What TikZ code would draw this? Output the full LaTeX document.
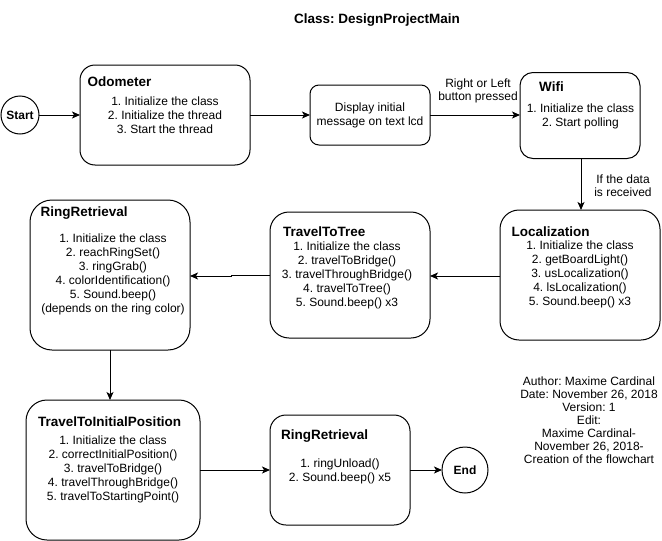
\documentclass[tikz,border=0pt]{standalone}
\usepackage{fontspec}
\setmainfont{Liberation Sans}
\usetikzlibrary{arrows.meta}
\frenchspacing
\begin{document}
\begin{tikzpicture}[x=1pt,y=-1pt,
  box/.style={draw=black, line width=1pt, rounded corners=#1, inner sep=0pt, outer sep=0pt},
  box/.default=15pt,
  endpt/.style={draw=black, line width=1pt, circle, inner sep=0pt, outer sep=0pt, font=\fontsize{12}{14}\selectfont\bfseries},
  ttl/.style={anchor=west, inner sep=0pt, font=\fontsize{13.5}{16}\selectfont\bfseries},
  body/.style={align=center, inner sep=0pt, font=\fontsize{12}{14}\selectfont},
  lbl/.style={align=center, inner sep=0pt, font=\fontsize{12}{13}\selectfont},
  flow/.style={draw=black, line width=1pt, -{Stealth[length=8pt,width=7pt,inset=2pt]}}
]
\useasboundingbox (0,0) rectangle (662,541);

% title
\node[ttl, anchor=center] (title) at (377,20) {Class: DesignProjectMain};

% start / end
\node[endpt, minimum size=38pt] (start) at (20,115) {Start};
\node[endpt, minimum size=46pt] (end) at (465,470) {End};

% boxes
\node[box=15pt, minimum width=170pt, minimum height=100pt] (odo) at (165,115) {};
\node[box=9pt, minimum width=120pt, minimum height=60pt] (disp) at (370,115) {};
\node[box=13pt, minimum width=120pt, minimum height=86pt] (wifi) at (580,115.5) {};
\node[box=19pt, minimum width=160pt, minimum height=130pt] (loc) at (580,275) {};
\node[box=19pt, minimum width=160pt, minimum height=126pt] (ttt) at (350,275) {};
\node[box=22pt, minimum width=160pt, minimum height=150pt] (rr) at (110,275) {};
\node[box=21pt, minimum width=174pt, minimum height=140pt] (ttip) at (113,470) {};
\node[box=16pt, minimum width=140pt, minimum height=110pt] (rr2) at (340,470) {};

% titles
\node[ttl] (odoT) at (87.5,81.5) {Odometer};
\node[ttl] (wifiT) at (539,86.5) {Wifi};
\node[ttl] (locT) at (511.5,231.5) {Localization};
\node[ttl] (tttT) at (283,231.5) {TravelToTree};
\node[ttl] (rrT) at (40.5,213.5) {RingRetrieval};
\node[ttl] (ttipT) at (38,421.5) {TravelToInitialPosition};
\node[ttl] (rr2T) at (281,436.5) {RingRetrieval};

% bodies
\node[body] (odoB) at (165,115.5) {1. Initialize the class\\2. Initialize the thread\\3. Start the thread};
\node[body] (dispB) at (370,115.5) {Display initial\\message on text lcd};
\node[body] (wifiB) at (580.5,116) {1. Initialize the class\\2. Start polling};
\node[body] (locB) at (580,274.5) {1. Initialize the class\\2. getBoardLight()\\3. usLocalization()\\4. lsLocalization()\\5. Sound.beep() x3};
\node[body] (tttB) at (347,275.3) {1. Initialize the class\\2. travelToBridge()\\3. travelThroughBridge()\\4. travelToTree()\\5. Sound.beep() x3};
\node[body] (rrB) at (113,274.2) {1. Initialize the class\\2. reachRingSet()\\3. ringGrab()\\4. colorIdentification()\\5. Sound.beep()\\(depends on the ring color)};
\node[body] (ttipB) at (113,469) {1. Initialize the class\\2. correctInitialPosition()\\3. travelToBridge()\\4. travelThroughBridge()\\5. travelToStartingPoint()};
\node[body] (rr2B) at (340,471) {1. ringUnload()\\2. Sound.beep() x5};

% author note
\node[lbl] (note) at (589,420.5) {Author: Maxime Cardinal\\Date: November 26, 2018\\Version: 1\\Edit:\\Maxime Cardinal-\\November 26, 2018-\\Creation of the flowchart};

% connectors
\draw[flow] (start) -- (odo);
\draw[flow] (odo) -- (disp);
\draw[flow] (disp.east) -- (disp.east -| wifi.west);
\node[lbl] (lblRL) at (478,91) {Right or Left\\button pressed};
\draw[flow] (wifi.south -| 581,0) -- (loc.north -| 581,0);
\node[lbl] (lblData) at (623,185.5) {If the data\\is received};
\draw[flow] (loc.west |- 0,276) -- (ttt.east |- 0,276);
\coordinate (jog) at (231,275);
\draw[flow] (ttt.west) -- (jog) -- ++(0,1) -- (rr.east |- 0,276);
\draw[flow] (rr.south) -- (rr.south |- ttip.north);
\draw[flow] (ttip.east) -- (ttip.east -| rr2.west);
\draw[flow] (rr2) -- (end);
\end{tikzpicture}
\end{document}
